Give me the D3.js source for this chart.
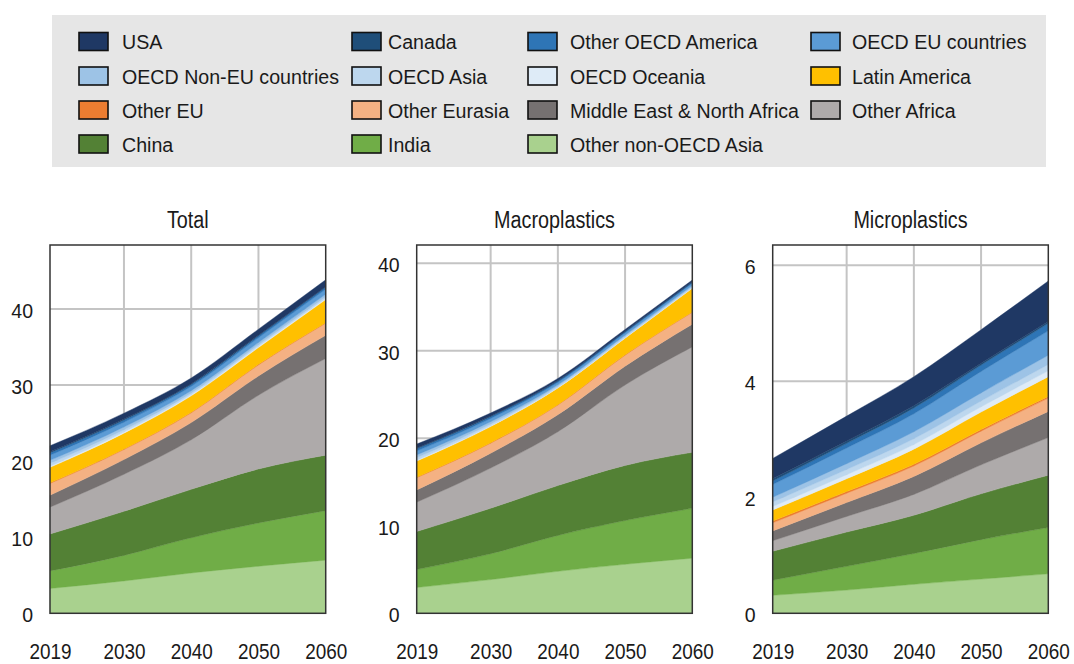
<!DOCTYPE html>
<html>
<head>
<meta charset="utf-8">
<script src="https://cdn.jsdelivr.net/npm/d3@7"></script>
<style>
  html, body { margin: 0; padding: 0; background: #fff; }
  svg { display: block; font-family: "Liberation Sans", Arial, Helvetica, sans-serif; }
</style>
</head>
<body>
<svg id="chart" width="1074" height="664"></svg>
<script>
// Years sampled in the projections
const years = [2019, 2030, 2040, 2050, 2060];
const yearTicks = [2019, 2030, 2040, 2050, 2060];

// Regions in stacking order (bottom to top)
const regions = [
  "Other non-OECD Asia", "India", "China", "Other Africa",
  "Middle East & North Africa", "Other Eurasia", "Other EU", "Latin America",
  "OECD Oceania", "OECD Asia", "OECD Non-EU countries", "OECD EU countries",
  "Other OECD America", "Canada", "USA"
];

const colors = [
  "#a9d18e", "#70ad47", "#538135", "#aeaaaa",
  "#767171", "#f4b183", "#ed7d31", "#ffc000",
  "#deebf7", "#bdd7ee", "#9dc3e6", "#5b9bd5",
  "#2e75b6", "#1f4e79", "#1f3864"
];

// Leakage (Mt), one row per region, one value per year
const totalData = [
  [3.26, 4.25, 5.30, 6.19, 6.98],
  [2.31, 3.36, 4.63, 5.68, 6.50],
  [4.85, 5.79, 6.36, 7.09, 7.30],
  [3.53, 4.87, 6.51, 9.70, 12.70],
  [1.57, 1.94, 2.26, 2.53, 3.05],
  [1.54, 1.31, 1.28, 1.45, 1.58],
  [0.08, 0.08, 0.08, 0.08, 0.08],
  [2.04, 2.07, 2.16, 2.20, 3.04],
  [0.16, 0.15, 0.13, 0.14, 0.15],
  [0.38, 0.31, 0.25, 0.23, 0.23],
  [0.38, 0.35, 0.29, 0.30, 0.31],
  [0.67, 0.64, 0.58, 0.62, 0.66],
  [0.31, 0.28, 0.25, 0.25, 0.26],
  [0.14, 0.12, 0.10, 0.08, 0.08],
  [0.80, 0.78, 0.75, 0.80, 0.91]
];

const macroData = [
  [2.95, 3.85, 4.80, 5.60, 6.30],
  [2.05, 2.95, 4.10, 5.00, 5.70],
  [4.35, 5.20, 5.70, 6.30, 6.40],
  [3.35, 4.60, 6.15, 9.20, 12.05],
  [1.40, 1.70, 1.95, 2.15, 2.60],
  [1.40, 1.15, 1.10, 1.25, 1.35],
  [0.05, 0.05, 0.05, 0.05, 0.05],
  [1.85, 1.85, 1.90, 1.90, 2.70],
  [0.10, 0.08, 0.05, 0.05, 0.05],
  [0.30, 0.22, 0.15, 0.13, 0.12],
  [0.30, 0.25, 0.17, 0.16, 0.15],
  [0.45, 0.37, 0.27, 0.25, 0.24],
  [0.25, 0.20, 0.15, 0.14, 0.13],
  [0.10, 0.08, 0.06, 0.05, 0.05],
  [0.45, 0.35, 0.25, 0.22, 0.21]
];

const microData = [
  [0.31, 0.40, 0.50, 0.59, 0.68],
  [0.26, 0.41, 0.53, 0.68, 0.80],
  [0.50, 0.59, 0.66, 0.79, 0.90],
  [0.18, 0.27, 0.36, 0.50, 0.65],
  [0.17, 0.24, 0.31, 0.38, 0.45],
  [0.14, 0.16, 0.18, 0.20, 0.23],
  [0.03, 0.03, 0.03, 0.03, 0.03],
  [0.19, 0.22, 0.26, 0.30, 0.34],
  [0.06, 0.07, 0.08, 0.09, 0.10],
  [0.08, 0.09, 0.10, 0.10, 0.11],
  [0.08, 0.10, 0.12, 0.14, 0.16],
  [0.22, 0.27, 0.31, 0.37, 0.42],
  [0.06, 0.08, 0.10, 0.11, 0.13],
  [0.04, 0.04, 0.04, 0.03, 0.03],
  [0.35, 0.43, 0.50, 0.58, 0.70]
];

const panelTitles = ["Total", "Macroplastics", "Microplastics"];
const totalTicks = [0, 10, 20, 30, 40];
const macroTicks = [0, 10, 20, 30, 40];
const microTicks = [0, 2, 4, 6];

// Legend reads row by row, top of the stack first
const legendOrder = regions.slice().reverse();

const svg = d3.select("#chart");
const textColor = "#1a1a1a";

// ---- Legend ----
const legendBox = { x: 52, y: 15, w: 994, h: 152 };
svg.append("rect")
  .attr("x", legendBox.x).attr("y", legendBox.y)
  .attr("width", legendBox.w).attr("height", legendBox.h)
  .attr("fill", "#e6e6e6");

const colSwatchX = [79, 352, 528, 811];
const colTextX = [122, 388, 570, 852];
const rowY = [41.5, 76, 110, 144];
const legendScaleX = 0.935;

const legendItems = svg.append("g").selectAll("g")
  .data(legendOrder)
  .join("g")
  .attr("transform", (d, i) => `translate(0,${rowY[Math.floor(i / 4)]})`);

legendItems.append("rect")
  .attr("x", (d, i) => colSwatchX[i % 4])
  .attr("y", -9)
  .attr("width", 29).attr("height", 18)
  .attr("fill", d => colors[regions.indexOf(d)])
  .attr("stroke", "#111").attr("stroke-width", 1.6);

legendItems.append("text")
  .attr("transform", (d, i) => `translate(${colTextX[i % 4]},0) scale(${legendScaleX},1)`)
  .attr("dy", "0.36em")
  .attr("font-size", 21)
  .attr("fill", textColor)
  .text(d => d);

// ---- Panels ----
const plotTop = 245, plotBottom = 613.3;
const panels = [
  { title: panelTitles[0], data: totalData, ticks: totalTicks, yMax: 48.4, left: 50, right: 325.7 },
  { title: panelTitles[1], data: macroData, ticks: macroTicks, yMax: 42.1, left: 416.7, right: 692.3 },
  { title: panelTitles[2], data: microData, ticks: microTicks, yMax: 6.35, left: 772.7, right: 1048.3 }
];

const stack = d3.stack().keys(regions);
const yLabelScale = 0.93, yPad = 17;
const xLabelScale = 0.86;

panels.forEach(p => {
  const x = d3.scaleLinear().domain([2019, 2060]).range([p.left, p.right]);
  const y = d3.scaleLinear().domain([0, p.yMax]).range([plotBottom, plotTop]);

  const rows = years.map((yr, i) => {
    const row = { year: yr };
    regions.forEach((r, j) => { row[r] = p.data[j][i]; });
    return row;
  });
  const series = stack(rows);

  const g = svg.append("g");

  // grid
  g.append("g").selectAll("line")
    .data(p.ticks.filter(t => t > 0))
    .join("line")
    .attr("x1", p.left).attr("x2", p.right)
    .attr("y1", d => y(d)).attr("y2", d => y(d))
    .attr("stroke", "#c4c4c4").attr("stroke-width", 2);
  g.append("g").selectAll("line")
    .data(yearTicks.slice(1, -1))
    .join("line")
    .attr("x1", d => x(d)).attr("x2", d => x(d))
    .attr("y1", plotTop).attr("y2", plotBottom)
    .attr("stroke", "#c4c4c4").attr("stroke-width", 2);

  // stacked areas
  const area = d3.area()
    .x(d => x(d.data.year))
    .y0(d => y(d[0]))
    .y1(d => y(d[1]))
    .curve(d3.curveMonotoneX);

  g.append("g").selectAll("path")
    .data(series)
    .join("path")
    .attr("d", area)
    .attr("fill", (d, i) => colors[i])
    .attr("stroke", (d, i) => colors[i])
    .attr("stroke-width", 0.4);

  // frame
  g.append("rect")
    .attr("x", p.left).attr("y", plotTop)
    .attr("width", p.right - p.left).attr("height", plotBottom - plotTop)
    .attr("fill", "none").attr("stroke", "#333").attr("stroke-width", 1.5);

  // y axis
  const yAxis = g.append("g")
    .attr("transform", `translate(${p.left},0)`)
    .call(d3.axisLeft(y).tickValues(p.ticks).tickFormat(d3.format("d")).tickSize(0).tickPadding(yPad));
  yAxis.select(".domain").remove();
  yAxis.selectAll("text")
    .attr("font-size", 21).attr("font-family", null)
    .attr("fill", textColor)
    .attr("x", -yPad / yLabelScale)
    .attr("dy", "0.4em")
    .attr("transform", `scale(${yLabelScale},1)`);

  // x axis
  const xAxis = g.append("g")
    .attr("transform", `translate(0,${plotBottom})`)
    .call(d3.axisBottom(x).tickValues(yearTicks).tickFormat(d3.format("d")).tickSize(0));
  xAxis.select(".domain").remove();
  xAxis.selectAll("text")
    .attr("font-size", 22).attr("font-family", null)
    .attr("fill", textColor)
    .attr("y", 45.3)
    .attr("dy", 0)
    .attr("transform", `scale(${xLabelScale},1)`);

  // title
  g.append("text")
    .attr("transform", `translate(${(p.left + p.right) / 2},220) scale(${xLabelScale},1)`)
    .attr("dy", "0.35em")
    .attr("text-anchor", "middle")
    .attr("font-size", 23)
    .attr("fill", textColor)
    .text(p.title);
});
</script>
</body>
</html>
